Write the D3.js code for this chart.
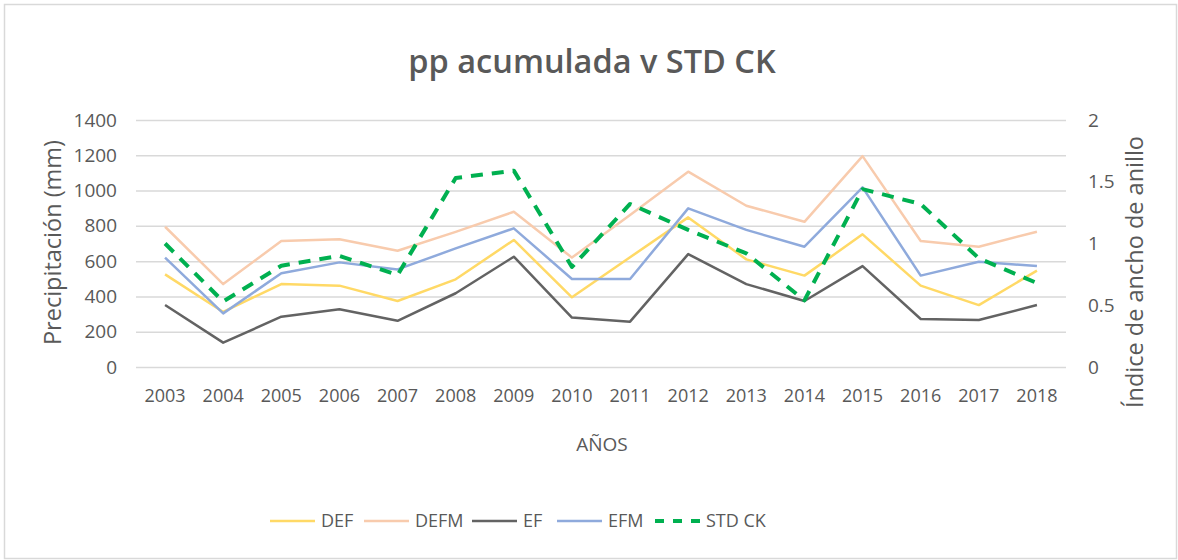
<!DOCTYPE html>
<html>
<head>
<meta charset="utf-8">
<script src="https://cdn.jsdelivr.net/npm/d3@7"></script>
<style>
  body { margin: 0; background: #fff; }
  text { font-family: "Open Sans", "DejaVu Sans", sans-serif; fill: #595959; }
</style>
</head>
<body>
<div id="chart"></div>
<script>
// Data
const years = ["2003","2004","2005","2006","2007","2008","2009","2010","2011","2012","2013","2014","2015","2016","2017","2018"];
const DEF  = [525, 312, 470, 461, 374, 497, 720, 395, 622, 848, 610, 518, 752, 461, 351, 546];
const DEFM = [795, 470, 714, 724, 659, 766, 880, 620, 862, 1107, 914, 823, 1195, 714, 682, 767];
const EF   = [351, 138, 285, 327, 262, 418, 625, 280, 257, 640, 470, 374, 572, 272, 266, 351];
const EFM  = [620, 304, 531, 593, 553, 672, 786, 499, 499, 899, 777, 682, 1018, 518, 597, 572];
const STDCK = [1.0, 0.53, 0.82, 0.90, 0.745, 1.53, 1.59, 0.81, 1.32, 1.11, 0.92, 0.54, 1.44, 1.32, 0.88, 0.68];

const leftTicks = [0, 200, 400, 600, 800, 1000, 1200, 1400];
const rightTicks = [0, 0.5, 1, 1.5, 2];

const series = [
  { name: "DEF",    values: DEF,   color: "#ffd966", axis: "left" },
  { name: "DEFM",   values: DEFM,  color: "#f8cbad", axis: "left" },
  { name: "EF",     values: EF,    color: "#636363", axis: "left" },
  { name: "EFM",    values: EFM,   color: "#8faadc", axis: "left" },
  { name: "STD CK", values: STDCK, color: "#00b050", axis: "right", dash: "12,9" }
];

const W = 1178, H = 560;
const plot = { left: 136, right: 1066, top: 120, bottom: 367 };

const svg = d3.select("#chart").append("svg")
  .attr("width", W).attr("height", H);

// Chart border
svg.append("rect")
  .attr("x", 4.5).attr("y", 4.5)
  .attr("width", W - 6).attr("height", H - 6)
  .attr("fill", "#fff").attr("stroke", "#d9d9d9").attr("stroke-width", 1.5);

const x = d3.scaleBand().domain(years).range([plot.left, plot.right]);
const yL = d3.scaleLinear().domain([0, 1400]).range([plot.bottom, plot.top]);
const yR = d3.scaleLinear().domain([0, 2]).range([plot.bottom, plot.top]);

// Gridlines + left axis
const gLeft = svg.append("g")
  .attr("transform", `translate(${plot.left},0)`)
  .call(d3.axisLeft(yL).tickValues(leftTicks).tickSize(-(plot.right - plot.left))
    .tickPadding(19).tickFormat(d3.format("d")));
gLeft.select(".domain").remove();
gLeft.selectAll(".tick line").attr("stroke", "#d9d9d9").attr("stroke-width", 1.5);
gLeft.selectAll(".tick text").attr("font-size", 19).attr("fill", "#595959");

// Right axis
const gRight = svg.append("g")
  .attr("transform", `translate(${plot.right},0)`)
  .call(d3.axisRight(yR).tickValues(rightTicks).tickSize(0).tickPadding(22).tickFormat(d3.format("")));
gRight.select(".domain").remove();
gRight.selectAll(".tick text").attr("font-size", 19).attr("fill", "#595959");

// Bottom axis
const gBottom = svg.append("g")
  .attr("transform", `translate(0,${plot.bottom})`)
  .call(d3.axisBottom(x).tickSize(0).tickPadding(22));
gBottom.select(".domain").remove();
gBottom.selectAll(".tick text").attr("font-size", 18).attr("fill", "#595959");

// Lines
series.forEach(s => {
  const y = s.axis === "left" ? yL : yR;
  const line = d3.line()
    .x((d, i) => x(years[i]) + x.bandwidth() / 2)
    .y(d => y(d));
  svg.append("path")
    .datum(s.values)
    .attr("d", line)
    .attr("fill", "none")
    .attr("stroke", s.color)
    .attr("stroke-width", s.dash ? 4 : 2.5)
    .attr("stroke-dasharray", s.dash || null)
    .attr("stroke-linejoin", "round");
});

// Title
svg.append("text")
  .attr("x", 592).attr("y", 73)
  .attr("text-anchor", "middle")
  .attr("font-size", 32.5).attr("font-weight", 600)
  .text("pp acumulada v STD CK");

// Axis titles
svg.append("text")
  .attr("x", (plot.left + plot.right) / 2 + 1).attr("y", 451)
  .attr("text-anchor", "middle").attr("font-size", 19)
  .text("AÑOS");

svg.append("text")
  .attr("transform", `translate(61,${(plot.top + plot.bottom) / 2 - 1}) rotate(-90)`)
  .attr("text-anchor", "middle").attr("font-size", 23.5)
  .text("Precipitación (mm)");

svg.append("text")
  .attr("transform", `translate(1143,272) rotate(-90)`)
  .attr("text-anchor", "middle").attr("font-size", 23.5)
  .text("Índice de ancho de anillo");

// Legend
const legendX = [270, 364, 472, 557, 655];
const legend = svg.append("g").attr("transform", "translate(0,521)");
series.forEach((s, i) => {
  const g = legend.append("g").attr("transform", `translate(${legendX[i]},0)`);
  g.append("line")
    .attr("x1", 0).attr("x2", 45).attr("y1", 0).attr("y2", 0)
    .attr("stroke", s.color)
    .attr("stroke-width", s.dash ? 4 : 2.5)
    .attr("stroke-dasharray", s.dash ? "9,9" : null);
  g.append("text")
    .attr("x", 51).attr("y", 0).attr("dy", "0.35em")
    .attr("font-size", 18)
    .text(s.name);
});
</script>
</body>
</html>
